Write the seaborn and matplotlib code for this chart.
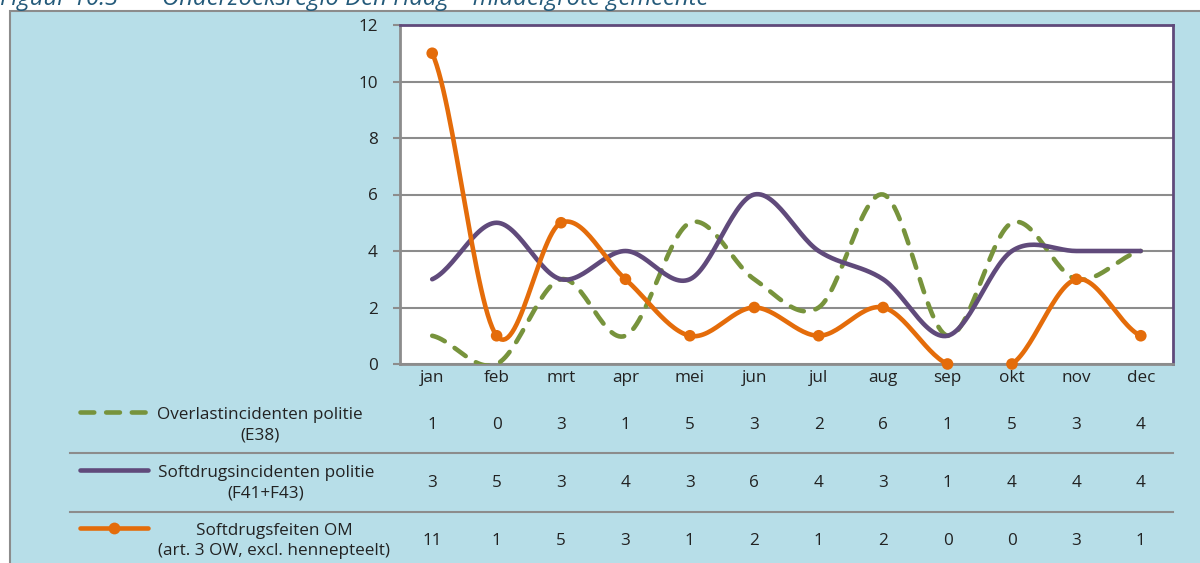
import numpy as np
import pandas as pd
import seaborn as sns
import matplotlib.pyplot as plt
from matplotlib.patches import Rectangle
from matplotlib.lines import Line2D
import matplotlib.transforms as mtransforms

maanden = ['jan', 'feb', 'mrt', 'apr', 'mei', 'jun', 'jul', 'aug', 'sep', 'okt', 'nov', 'dec']
overlast = [1, 0, 3, 1, 5, 3, 2, 6, 1, 5, 3, 4]
softdrugs_politie = [3, 5, 3, 4, 3, 6, 4, 3, 1, 4, 4, 4]
softdrugs_om = [11, 1, 5, 3, 1, 2, 1, 2, 0, 0, 3, 1]

namen = ['Overlastincidenten politie\n(E38)',
         'Softdrugsincidenten politie\n(F41+F43)',
         'Softdrugsfeiten OM\n(art. 3 OW, excl. hennepteelt)']

GROEN = '#77933c'
PAARS = '#604a7b'
ORANJE = '#e46c0a'
BLAUW = '#b7dee8'
GRIJS = '#8c8c8c'
TEKST = '#222222'

W, H = 1200, 563
FS = 12.3


def smooth(vals, n=30):
    # excel-achtige afgevlakte lijn (catmull-rom / bezier)
    p = np.asarray(vals, dtype=float)
    x = np.arange(len(p), dtype=float)
    xs, ys = [], []
    for i in range(len(p) - 1):
        a = p[max(i - 1, 0)]
        b = p[min(i + 2, len(p) - 1)]
        c1 = p[i] + (p[i + 1] - a) / 6
        c2 = p[i + 1] - (b - p[i]) / 6
        t = np.linspace(0, 1, n)
        yy = (1 - t) ** 3 * p[i] + 3 * (1 - t) ** 2 * t * c1 + 3 * (1 - t) * t ** 2 * c2 + t ** 3 * p[i + 1]
        xs.append(x[i] + t)
        ys.append(yy)
    return np.concatenate(xs), np.concatenate(ys)


plt.rcParams['font.family'] = ['Open Sans', 'DejaVu Sans']

fig = plt.figure(figsize=(W / 100, H / 100), dpi=100)
fig.patch.set_facecolor('white')

# blauw kader
fig.add_artist(Rectangle((10 / W, -0.01), 1.1, 1 - 11 / H + 0.01, transform=fig.transFigure,
                         facecolor=BLAUW, edgecolor=GRIJS, lw=1.5, zorder=0))
fig.text(0, 1 - 5 / H, 'Figuur 10.3       Onderzoeksregio Den Haag – middelgrote gemeente',
         fontsize=17.2, style='italic', color='#245a7a', va='baseline', ha='left')

ax = fig.add_axes([400 / W, 1 - 364 / H, 773 / W, 339 / H])
ax.set_facecolor('white')

reeksen = [(overlast, GROEN), (softdrugs_politie, PAARS), (softdrugs_om, ORANJE)]
for i, (vals, kleur) in enumerate(reeksen):
    xs, ys = smooth(vals)
    df = pd.DataFrame({'x': xs, 'y': ys})
    sns.lineplot(data=df, x='x', y='y', ax=ax, color=kleur, lw=3.3, sort=False, zorder=3 + i)
    ln = ax.lines[-1]
    ln.set_solid_capstyle('round')
    if kleur == GROEN:
        ln.set_dashes((3, 2.6))
        ln.set_dash_capstyle('round')

pts = pd.DataFrame({'x': np.arange(12), 'y': softdrugs_om})
sns.scatterplot(data=pts, x='x', y='y', ax=ax, color=ORANJE, s=70, edgecolor='none', zorder=6, clip_on=False)

ax.set_xlim(-0.5, 11.5)
ax.set_ylim(0, 12)
ax.set_yticks(range(0, 13, 2))
ax.set_xticks(range(12))
ax.set_xticklabels(maanden)
ax.set_xlabel('')
ax.set_ylabel('')
ax.tick_params(axis='x', length=0, pad=4, labelsize=FS, colors=TEKST)
ax.tick_params(axis='y', length=5, width=1.5, color=GRIJS, pad=11, labelsize=FS, labelcolor=TEKST)
ax.yaxis.grid(True, color=GRIJS, lw=1.5)
ax.set_axisbelow(True)
for s in ['left', 'bottom']:
    ax.spines[s].set_color(GRIJS)
    ax.spines[s].set_linewidth(2)
for s in ['top', 'right']:
    ax.spines[s].set_color(PAARS)
    ax.spines[s].set_linewidth(2)

# datatabel onder de grafiek
trans = mtransforms.blended_transform_factory(ax.transData, fig.transFigure)
rij_y = [425, 483, 541]
tekst_x = [260, 266, 274]
for r, (vals, kleur) in enumerate(reeksen):
    fy = 1 - rij_y[r] / H
    for j, v in enumerate(vals):
        ax.text(j, fy, str(v), transform=trans, ha='center', va='center', fontsize=FS, color=TEKST)
    fig.text(tekst_x[r] / W, fy, namen[r], ha='center', va='center', multialignment='center',
             fontsize=FS, color=TEKST, linespacing=1.35)
    ly = 1 - (rij_y[r] - 13) / H
    if r == 0:
        fig.add_artist(Line2D([80 / W, 148 / W], [ly, ly], transform=fig.transFigure, color=kleur,
                              lw=3.3, dashes=(3, 2.6), dash_capstyle='round'))
    else:
        fig.add_artist(Line2D([80 / W, 148 / W], [ly, ly], transform=fig.transFigure, color=kleur,
                              lw=3.3, solid_capstyle='round'))
    if r == 2:
        fig.add_artist(Line2D([114 / W], [ly], transform=fig.transFigure, color=kleur,
                              marker='o', markersize=8.5, markeredgewidth=0))

for yy in [453, 512]:
    fig.add_artist(Line2D([70 / W, 1173 / W], [1 - yy / H] * 2, transform=fig.transFigure,
                          color=GRIJS, lw=1.5))

fig.savefig('out.png', dpi=100)
